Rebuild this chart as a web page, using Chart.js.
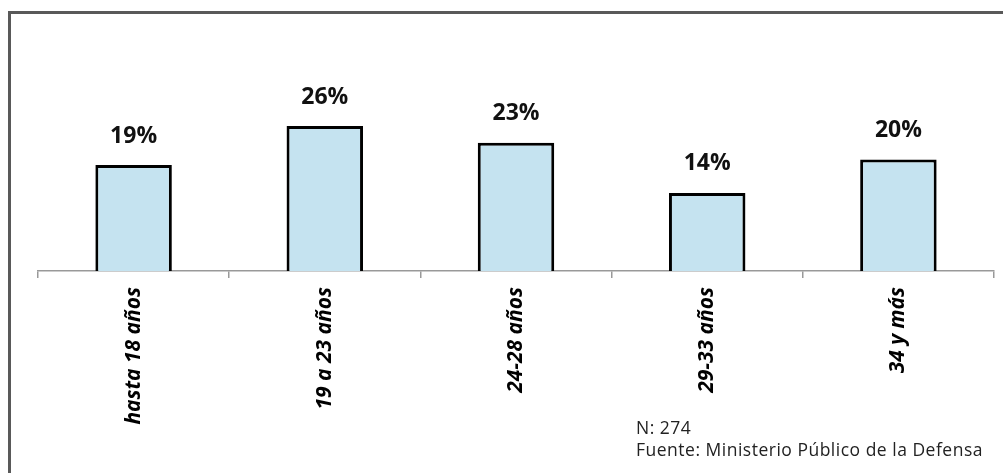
<!DOCTYPE html>
<html>
<head>
<meta charset="utf-8">
<script src="https://cdn.jsdelivr.net/npm/chart.js@4/dist/chart.umd.min.js"></script>
<style>
  html, body { margin: 0; padding: 0; background: #fff; overflow: hidden; }
  #wrap { position: relative; width: 1003px; height: 473px; }
  #frame {
    position: absolute; left: 8px; top: 11px; width: 1100px; height: 600px;
    border: 3.5px solid #595959; box-sizing: border-box;
  }
  #chart { position: absolute; left: 0; top: 0; }
  .note {
    position: absolute; left: 636px; font-family: "Open Sans", sans-serif;
    font-size: 17.5px; line-height: 1; letter-spacing: 0.5px; color: #222; white-space: nowrap;
  }
</style>
</head>
<body>
<div id="wrap">
  <div id="frame"></div>
  <canvas id="chart" width="1003" height="473"></canvas>
  <div class="note" style="top:419px">N: 274</div>
  <div class="note" style="top:441px">Fuente: Ministerio Público de la Defensa</div>
</div>
<script>
const categories = ['hasta 18 años', '19 a 23 años', '24-28 años', '29-33 años', '34 y más'];
const shares = [19, 26, 23, 14, 20];

const valueLabels = {
  id: 'valueLabels',
  afterDatasetsDraw(chart) {
    const ctx = chart.ctx;
    const meta = chart.getDatasetMeta(0);
    ctx.save();
    ctx.font = 'bold 23px "Open Sans", sans-serif';
    ctx.fillStyle = '#111';
    ctx.textAlign = 'center';
    ctx.textBaseline = 'middle';
    meta.data.forEach((bar, i) => {
      ctx.fillText(shares[i] + '%', bar.x, bar.y - 29);
    });
    ctx.restore();
  }
};

new Chart(document.getElementById('chart'), {
  type: 'bar',
  data: {
    labels: categories,
    datasets: [{
      data: shares,
      backgroundColor: '#c5e3f0',
      borderColor: '#000',
      borderWidth: 3,
      categoryPercentage: 1,
      barPercentage: 0.4,
    }],
  },
  options: {
    responsive: false,
    animation: false,
    layout: { padding: { left: 38, right: 9, top: 48, bottom: 0 } },
    plugins: { legend: { display: false }, tooltip: { enabled: false } },
    scales: {
      y: { display: false, min: 0, max: 40 },
      x: {
        afterFit: (s) => { s.height = 202; },
        grid: {
          offset: true,
          drawOnChartArea: false,
          drawTicks: true,
          tickLength: 7,
          color: '#999',
          lineWidth: 1.5,
        },
        border: { display: true, color: '#999', width: 1.5 },
        ticks: {
          minRotation: 90,
          maxRotation: 90,
          padding: 9,
          color: '#000',
          font: { family: '"Open Sans", sans-serif', size: 21, weight: 'bold', style: 'italic' },
        },
      },
    },
  },
  plugins: [valueLabels],
});
</script>
</body>
</html>
